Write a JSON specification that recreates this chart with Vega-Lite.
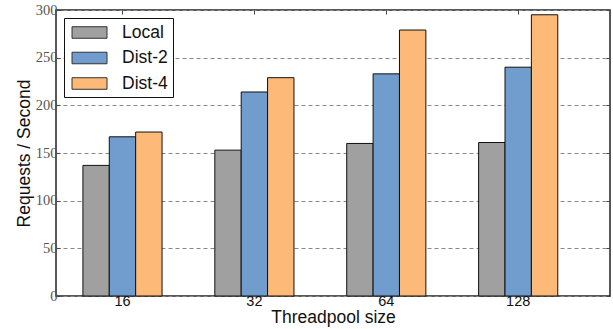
{
  "$schema": "https://vega.github.io/schema/vega-lite/v6.json",
  "width": 554,
  "height": 286,
  "autosize": {"type": "none"},
  "padding": {"left": 56, "top": 10, "right": 3, "bottom": 33},
  "background": "white",
  "config": {
    "view": {"stroke": "#222", "strokeWidth": 1.5},
    "axis": {"domain": false}
  },
  "data": {
    "values": [
      {"threads": "16", "mode": "Local", "rps": 137},
      {"threads": "16", "mode": "Dist-2", "rps": 167},
      {"threads": "16", "mode": "Dist-4", "rps": 172},
      {"threads": "32", "mode": "Local", "rps": 153},
      {"threads": "32", "mode": "Dist-2", "rps": 214},
      {"threads": "32", "mode": "Dist-4", "rps": 229},
      {"threads": "64", "mode": "Local", "rps": 160},
      {"threads": "64", "mode": "Dist-2", "rps": 233},
      {"threads": "64", "mode": "Dist-4", "rps": 279},
      {"threads": "128", "mode": "Local", "rps": 161},
      {"threads": "128", "mode": "Dist-2", "rps": 240},
      {"threads": "128", "mode": "Dist-4", "rps": 295}
    ]
  },
  "layer": [
    {
      "mark": {"type": "bar", "stroke": "#111", "strokeWidth": 1},
      "encoding": {
        "x": {
          "field": "threads",
          "type": "nominal",
          "sort": ["16", "32", "64", "128"],
          "scale": {"paddingInner": 0.4, "paddingOuter": 0.3, "align": 0.34},
          "axis": {
            "orient": "bottom",
            "title": "Threadpool size",
            "titleFont": "Liberation Sans",
            "titleFontSize": 17.5,
            "titleFontWeight": "normal",
            "titleColor": "#111",
            "titlePadding": 1,
            "labelAngle": 0,
            "labelFont": "Liberation Sans",
            "labelFontSize": 14.5,
            "labelColor": "#111",
            "labelPadding": 2,
            "ticks": true,
            "tickSize": -4,
            "tickColor": "#444",
            "grid": false
          }
        },
        "xOffset": {
          "field": "mode",
          "type": "nominal",
          "sort": ["Local", "Dist-2", "Dist-4"],
          "scale": {"paddingInner": 0, "paddingOuter": 0}
        },
        "y": {
          "field": "rps",
          "type": "quantitative",
          "scale": {"domain": [0, 300], "nice": false},
          "axis": {
            "orient": "left",
            "title": "Requests / Second",
            "titleFont": "Liberation Sans",
            "titleFontSize": 17.5,
            "titleFontWeight": "normal",
            "titleColor": "#111",
            "titlePadding": 2,
            "values": [0, 50, 100, 150, 200, 250, 300],
            "labelFont": "Liberation Serif",
            "labelFontSize": 14.5,
            "labelColor": "#555",
            "labelPadding": 3,
            "tickSize": -4,
            "tickColor": "#444",
            "grid": true,
            "gridColor": "#888",
            "gridDash": [4, 3],
            "gridWidth": 1
          }
        },
        "color": {
          "field": "mode",
          "type": "nominal",
          "sort": ["Local", "Dist-2", "Dist-4"],
          "scale": {
            "domain": ["Local", "Dist-2", "Dist-4"],
            "range": ["#a0a0a0", "#709dcd", "#fdb978"]
          },
          "legend": {
            "title": null,
            "orient": "none",
            "legendX": 8,
            "legendY": 8,
            "direction": "vertical",
            "fillColor": "white",
            "strokeColor": "#111",
            "padding": 5,
            "rowPadding": 7.5,
            "symbolType": "M-0.74,-0.66H3.26V0.66H-0.74Z",
            "symbolSize": 306,
            "symbolStrokeColor": "#333",
            "symbolStrokeWidth": 1,
            "symbolOpacity": 1,
            "labelFont": "Liberation Sans",
            "labelFontSize": 17.5,
            "labelColor": "#111",
            "labelOffset": 34,
            "labelExpr": "datum.label + '  '"
          }
        }
      }
    },
    {
      "mark": {"type": "tick", "opacity": 0},
      "encoding": {
        "x": {
          "field": "threads",
          "type": "nominal",
          "sort": ["16", "32", "64", "128"],
          "axis": {
            "orient": "top",
            "title": null,
            "labels": false,
            "ticks": true,
            "tickSize": -4,
            "tickColor": "#444",
            "grid": false
          }
        },
        "y": {
          "field": "rps",
          "type": "quantitative",
          "axis": {
            "orient": "right",
            "title": null,
            "labels": false,
            "values": [0, 50, 100, 150, 200, 250, 300],
            "ticks": true,
            "tickSize": -4,
            "tickColor": "#444",
            "grid": false
          }
        }
      }
    }
  ],
  "resolve": {"axis": {"x": "independent", "y": "independent"}}
}
